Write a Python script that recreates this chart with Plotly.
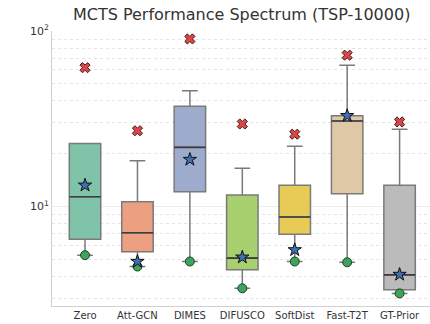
import plotly.graph_objects as go

methods = ["Zero", "Att-GCN", "DIMES", "DIFUSCO", "SoftDist", "Fast-T2T", "GT-Prior"]
q1 = [6.49, 5.52, 12.1, 4.35, 6.94, 11.8, 3.35]
median = [11.35, 7.08, 21.7, 5.07, 8.70, 30.7, 4.07]
q3 = [22.8, 10.63, 37.2, 11.6, 13.2, 32.9, 13.2]
whisk_lo = [5.27, 4.54, 4.85, 3.41, 4.85, 4.80, 3.19]
whisk_hi = [22.8, 18.2, 45.6, 16.5, 22.0, 63.8, 27.5]
best = [5.27, 4.54, 4.85, 3.41, 4.85, 4.80, 3.19]
worst = [61.8, 27.0, 90.1, 29.5, 25.8, 72.8, 30.3]
mean = [13.2, 4.85, 18.5, 5.13, 5.65, 32.9, 4.09]
colors = ["#7fc4a9", "#eda081", "#9daccc", "#a9d06f", "#e8cb57", "#dfc8a5", "#bbbbbb"]

fig = go.Figure()
for i, m in enumerate(methods):
    fig.add_trace(go.Box(
        x=[m], q1=[q1[i]], median=[median[i]], q3=[q3[i]],
        lowerfence=[whisk_lo[i]], upperfence=[whisk_hi[i]],
        fillcolor=colors[i], line=dict(color="#7a7a7a", width=1.5),
        width=0.6, whiskerwidth=0.5, boxpoints=False, showlegend=False,
        hoverinfo="skip"))
    # darker median line
    fig.add_trace(go.Box(
        x=[m], q1=[median[i]], median=[median[i]], q3=[median[i]],
        lowerfence=[median[i]], upperfence=[median[i]],
        fillcolor="rgba(0,0,0,0)", line=dict(color="#3c3c3c", width=1.6),
        width=0.6, whiskerwidth=0, boxpoints=False, showlegend=False,
        hoverinfo="skip"))

fig.add_trace(go.Scatter(x=methods, y=best, mode="markers", showlegend=False,
                         marker=dict(symbol="circle", size=9, color="#3fa35b",
                                     line=dict(color="#1f3f25", width=1))))
fig.add_trace(go.Scatter(x=methods, y=worst, mode="markers", showlegend=False,
                         marker=dict(symbol="x", size=9, color="#d9474a",
                                     line=dict(color="#4a1a1a", width=1))))
fig.add_trace(go.Scatter(x=methods, y=mean, mode="markers", showlegend=False,
                         marker=dict(symbol="star", size=10, color="#3f6fb5",
                                     line=dict(color="#111111", width=1))))

minor_vals = [3, 4, 5, 6, 7, 8, 9, 20, 30, 40, 50, 60, 70, 80, 90]

fig.update_layout(
    width=430, height=324,
    margin=dict(l=52, r=0, t=31, b=18),
    paper_bgcolor="white", plot_bgcolor="white",
    font=dict(family="DejaVu Sans", color="#333333", size=10),
    title=dict(text="MCTS Performance Spectrum (TSP-10000)", x=0.562, xanchor="center",
               y=0.955, yanchor="middle", font=dict(size=16, color="#333333")),
    xaxis=dict(type="category", range=[-0.63, 6.58], showgrid=False,
               showline=True, linecolor="#d0d0d0", linewidth=1, ticks="",
               tickfont=dict(size=10, color="#333333"), zeroline=False),
    yaxis=dict(type="log", range=[0.432, 2.0], tickmode="array",
               tickvals=[10, 100], ticktext=["10<sup>1</sup>", "10<sup>2</sup>"],
               showgrid=True, gridcolor="#ececec", gridwidth=1,
               showline=True, linecolor="#d0d0d0", linewidth=1, ticks="",
               tickfont=dict(size=11, color="#333333"), zeroline=False,
               minor=dict(tickmode="array", tickvals=minor_vals, showgrid=True,
                          gridcolor="#e4e4e4", griddash="dot", gridwidth=1)),
)

fig.write_html("out.html", config={"displayModeBar": False},
               post_script="document.body.style.margin='0';")
